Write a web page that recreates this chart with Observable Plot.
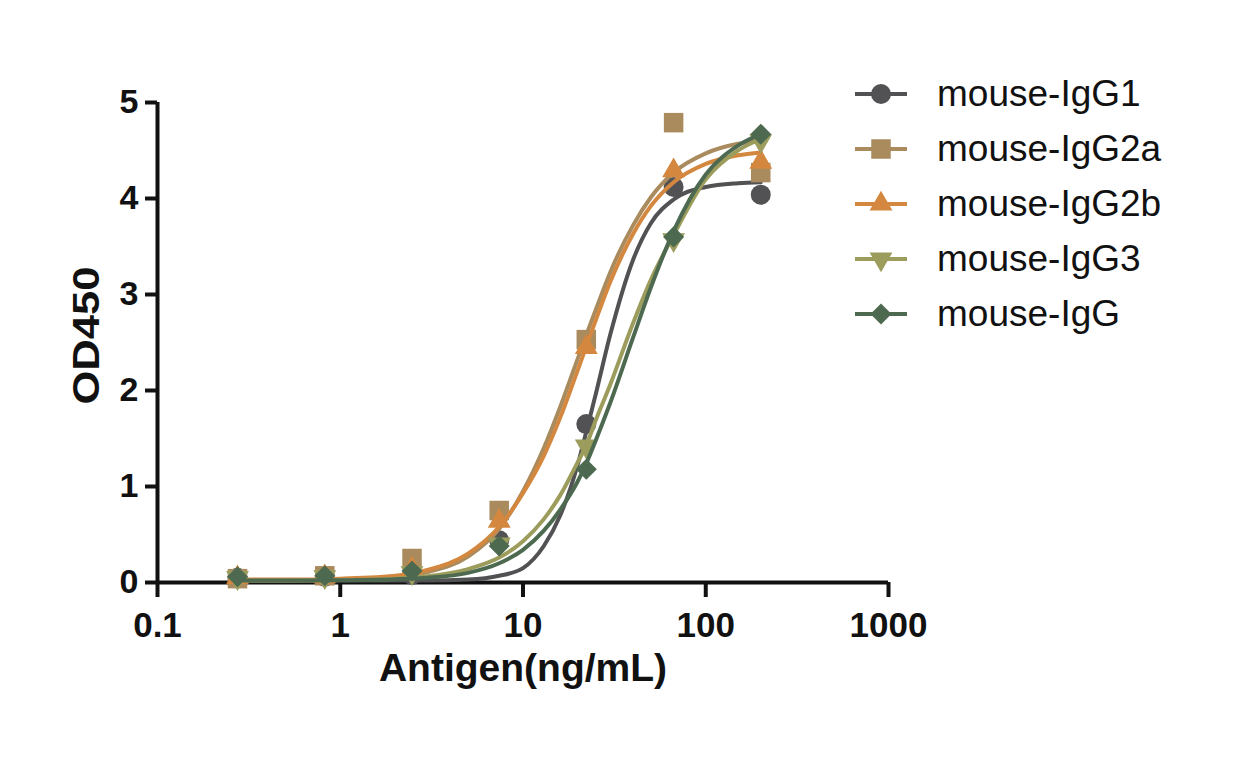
<!DOCTYPE html>
<html><head><meta charset="utf-8">
<script src="https://cdn.jsdelivr.net/npm/d3@7"></script>
<script src="https://cdn.jsdelivr.net/npm/@observablehq/plot@0.6"></script>
<style>
body{margin:0;background:#fff;}
#wrap{position:relative;width:1240px;height:763px;font-family:"Liberation Sans",Arial,sans-serif;}
#legend{position:absolute;left:853px;top:66px;}
.row{display:flex;align-items:center;height:55px;}
.row svg{display:block;}
.row span{font-size:37px;color:#111;margin-left:28px;line-height:1;}
</style></head><body><div id="wrap"><div id="chart"></div><div id="legend"></div></div>
<script>
// ---- data ----
const series = ["mouse-IgG1","mouse-IgG2a","mouse-IgG2b","mouse-IgG3","mouse-IgG"];
const colors = ["#525255","#A98B5E","#D4883F","#9C9D5C","#4D6A51"];
const symbolNames = ["circle","square","triangle","triangleDown","diamond2"];
const symbolRadius = [10, 11, 8.5, 8.5, 9.5];

const conc = [0.274, 0.823, 2.47, 7.41, 22.2, 66.7, 200];
const odIgG1  = [0.05, 0.06, 0.08, 0.44, 1.65, 4.12, 4.04];
const odIgG2a = [0.04, 0.07, 0.25, 0.75, 2.53, 4.79, 4.27];
const odIgG2b = [0.05, 0.06, 0.14, 0.64, 2.45, 4.29, 4.38];
const odIgG3  = [0.05, 0.06, 0.10, 0.40, 1.42, 3.57, 4.60];
const odIgG   = [0.06, 0.07, 0.12, 0.38, 1.18, 3.60, 4.67];

// fitted curves
const curveConc = [0.274, 0.5, 1, 2, 3, 5, 7.41, 10, 13, 16, 20, 22.2, 25, 30, 40, 50, 66.7, 100, 150, 200];
const fitIgG1  = [0.02, 0.02, 0.02, 0.02, 0.02, 0.03, 0.07, 0.15, 0.38, 0.70, 1.24, 1.57, 1.96, 2.58, 3.36, 3.74, 3.99, 4.12, 4.16, 4.17];
const fitIgG2a = [0.02, 0.02, 0.03, 0.06, 0.11, 0.27, 0.56, 0.95, 1.40, 1.83, 2.34, 2.58, 2.84, 3.23, 3.72, 4.01, 4.27, 4.47, 4.57, 4.60];
const fitIgG2b = [0.03, 0.03, 0.04, 0.07, 0.13, 0.30, 0.58, 0.93, 1.32, 1.72, 2.22, 2.46, 2.73, 3.13, 3.63, 3.92, 4.17, 4.36, 4.45, 4.48];
const fitIgG3  = [0.02, 0.02, 0.025, 0.04, 0.065, 0.14, 0.26, 0.43, 0.66, 0.91, 1.26, 1.43, 1.69, 2.06, 2.70, 3.15, 3.62, 4.20, 4.50, 4.62];
const fitIgG   = [0.02, 0.02, 0.023, 0.034, 0.05, 0.10, 0.20, 0.34, 0.54, 0.76, 1.06, 1.24, 1.48, 1.87, 2.55, 3.07, 3.66, 4.25, 4.55, 4.67];

const yTicks = [0, 1, 2, 3, 4, 5];
const yTickLabels = ["0", "1", "2", "3", "4", "5"];
const xTicks = [0.1, 1, 10, 100, 1000];
const xTickLabels = ["0.1", "1", "10", "100", "1000"];
const xTitle = "Antigen(ng/mL)";
const yTitle = "OD450";

// ---- build ----
const pointSets = [odIgG1, odIgG2a, odIgG2b, odIgG3, odIgG];
const fitSets = [fitIgG1, fitIgG2a, fitIgG2b, fitIgG3, fitIgG];

const triangleDown = {
  draw(context, size) {
    const s3 = Math.sqrt(3);
    const y = -Math.sqrt(size / (s3 * 3));
    context.moveTo(0, -y * 2);
    context.lineTo(-s3 * y, y);
    context.lineTo(s3 * y, y);
    context.closePath();
  }
};
function sym(name) { return name === "triangleDown" ? triangleDown : name; }
function d3sym(name) {
  return ({circle: d3.symbolCircle, square: d3.symbolSquare, triangle: d3.symbolTriangle,
           triangleDown: triangleDown, diamond2: d3.symbolDiamond2})[name];
}

const marks = [];
series.forEach((s, k) => {
  const fit = curveConc.map((x, i) => ({x, y: fitSets[k][i]}));
  const pts = conc.map((x, i) => ({x, y: pointSets[k][i]}));
  marks.push(Plot.line(fit, {x: "x", y: "y", stroke: colors[k], strokeWidth: 4, curve: "monotone-x"}));
  marks.push(Plot.dot(pts, {x: "x", y: "y", fill: colors[k], stroke: "none", symbol: sym(symbolNames[k]), r: symbolRadius[k]}));
});

const chart = Plot.plot({
  width: 1240, height: 763,
  marginLeft: 157, marginRight: 352, marginTop: 102, marginBottom: 181,
  x: {type: "log", domain: [0.1, 1000]},
  y: {domain: [0, 5]},
  style: {fontFamily: "'Liberation Sans', Arial, sans-serif", color: "#111", background: "white", fontWeight: "bold"},
  marks: [
    Plot.ruleY([0], {x1: 0.1, x2: 1000, stroke: "#111", strokeWidth: 4}),
    Plot.ruleX([0.1], {y1: 0, y2: 5, stroke: "#111", strokeWidth: 4}),
    Plot.axisX(xTicks, {tickSize: 15, tickPadding: 15, strokeWidth: 4, fontSize: 35, fontWeight: "bold",
      tickFormat: d => xTickLabels[xTicks.indexOf(d)], label: null}),
    Plot.axisY(yTicks, {tickSize: 12, tickPadding: 7, strokeWidth: 4, fontSize: 34, fontWeight: "bold",
      tickFormat: d => yTickLabels[yTicks.indexOf(d)], label: null}),
    Plot.text([xTitle], {text: d => d, frameAnchor: "bottom", dy: 98, fontSize: 39, fontWeight: "bold"}),
    Plot.text([yTitle], {text: d => d, frameAnchor: "left", textAnchor: "middle", dx: -70, dy: -7, rotate: -90, fontSize: 36, fontWeight: "bold"}),
    ...marks
  ]
});
document.getElementById("chart").appendChild(chart);
d3.select(chart).selectAll("text").filter(function() { return this.textContent === yTitle; })
  .attr("textLength", 138).attr("lengthAdjust", "spacingAndGlyphs");

// legend
const legend = document.getElementById("legend");
series.forEach((s, k) => {
  const row = document.createElement("div");
  row.className = "row";
  const svg = d3.create("svg").attr("width", 56).attr("height", 30);
  svg.append("line").attr("x1", 2).attr("x2", 54).attr("y1", 15).attr("y2", 15)
    .attr("stroke", colors[k]).attr("stroke-width", 4);
  svg.append("path").attr("transform", "translate(28,15)")
    .attr("d", d3.symbol(d3sym(symbolNames[k]), Math.PI * symbolRadius[k] * symbolRadius[k])())
    .attr("fill", colors[k]);
  row.appendChild(svg.node());
  const t = document.createElement("span");
  t.textContent = s;
  row.appendChild(t);
  legend.appendChild(row);
});
</script></body></html>
